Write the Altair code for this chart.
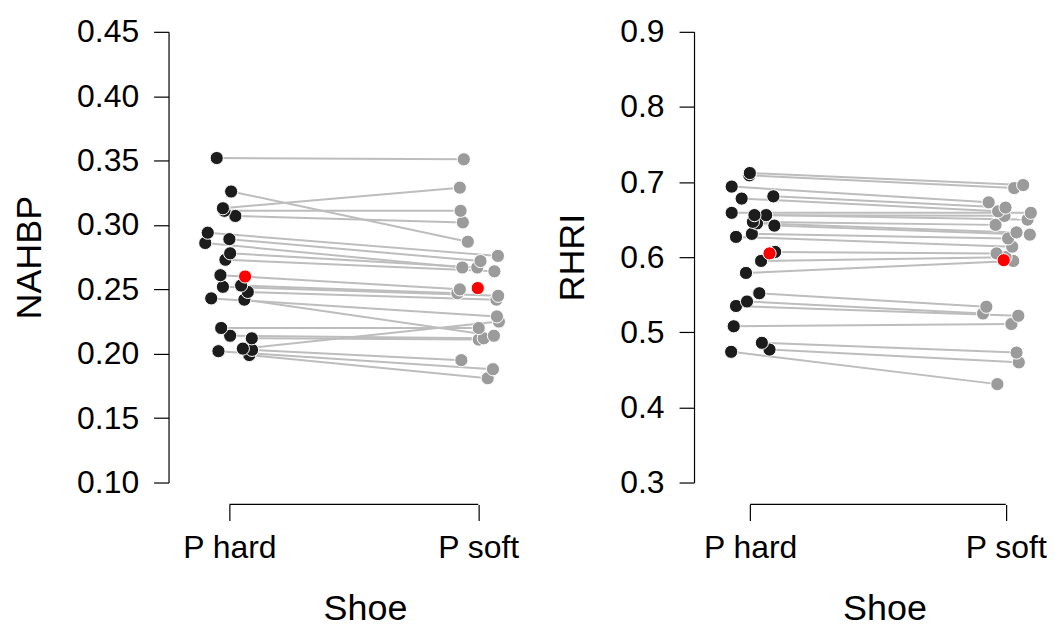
import altair as alt
import pandas as pd

shoes = ["P hard", "P soft"]

# NAHBP panel (paired, same order)
nahbp_hard = [0.352, 0.326, 0.313, 0.311, 0.307, 0.294, 0.289, 0.286, 0.278, 0.273, 0.261, 0.253,
              0.252, 0.248, 0.243, 0.242, 0.220, 0.214, 0.212, 0.204, 0.203, 0.202, 0.199]
nahbp_soft = [0.351, 0.287, 0.329, 0.311, 0.302, 0.276, 0.272, 0.267, 0.267, 0.264, 0.250, 0.247,
              0.245, 0.242, 0.229, 0.214, 0.220, 0.212, 0.211, 0.225, 0.195, 0.188, 0.181]
nahbp_hard_jit = [-0.051, 0.007, -0.026, -0.020, 0.024, -0.087, 0.000, -0.097, 0.003, -0.016, -0.036, 0.047,
                  -0.026, 0.074, -0.073, 0.060, -0.033, 0.003, 0.090, 0.054, 0.091, -0.044, 0.080]
nahbp_soft_jit = [-0.058, -0.042, -0.074, -0.071, -0.062, 0.079, 0.009, -0.064, -0.004, 0.065, -0.074, -0.084,
                  0.080, 0.073, 0.075, 0.063, 0.002, 0.022, 0.002, 0.083, -0.068, 0.059, 0.038]
nahbp_mean = [0.260, 0.251]
nahbp_mean_jit = [0.063, -0.002]
nahbp_ticks = [0.10, 0.15, 0.20, 0.25, 0.30, 0.35, 0.40, 0.45]

# RHRI panel
rhri_hard = [0.712, 0.709, 0.694, 0.681, 0.678, 0.659, 0.656, 0.656, 0.647, 0.645, 0.642, 0.631,
             0.627, 0.607, 0.595, 0.579, 0.552, 0.541, 0.535, 0.508, 0.486, 0.477, 0.474]
rhri_soft = [0.696, 0.692, 0.673, 0.666, 0.661, 0.659, 0.655, 0.650, 0.643, 0.633, 0.630, 0.625,
             0.614, 0.605, 0.600, 0.595, 0.534, 0.525, 0.522, 0.511, 0.473, 0.460, 0.431]
rhri_hard_jit = [-0.001, -0.003, -0.072, 0.091, -0.033, -0.072, 0.017, 0.063, 0.011, 0.027, 0.095, 0.007,
                 -0.055, 0.098, 0.043, -0.016, 0.036, -0.012, -0.055, -0.064, 0.046, 0.076, -0.074]
rhri_soft_jit = [0.068, 0.033, -0.067, -0.001, -0.030, 0.098, -0.005, 0.085, -0.040, 0.042, 0.094, 0.009,
                 0.025, -0.036, -0.001, 0.029, -0.076, -0.089, 0.049, 0.022, 0.042, 0.051, -0.033]
rhri_mean = [0.605, 0.596]
rhri_mean_jit = [0.076, -0.008]
rhri_ticks = [0.3, 0.4, 0.5, 0.6, 0.7, 0.8, 0.9]

FONT = "Liberation Sans"
H = 452
BLACK_PT = "#1c1c1c"
GREY_PT = "#9b9b9b"
LINE_C = "#bdbdbd"


def panel(hard, soft, hj, sj, mean, mj, title, ticks, fmt, xdom, width, title_x):
    rows = []
    for i in range(len(hard)):
        rows.append({"id": i, "shoe": shoes[0], "pos": 0 + hj[i], "value": hard[i]})
        rows.append({"id": i, "shoe": shoes[1], "pos": 1 + sj[i], "value": soft[i]})
    df = pd.DataFrame(rows)
    mdf = pd.DataFrame({"shoe": shoes, "pos": [0 + mj[0], 1 + mj[1]], "value": mean})
    frame = pd.DataFrame({"a": [0], "b": [1]})

    xscale = alt.Scale(domain=xdom, nice=False, zero=False)
    yscale = alt.Scale(domain=[ticks[0], ticks[-1]], nice=False, zero=False)
    label_expr = f"datum.value == 0 ? '{shoes[0]}' : '{shoes[1]}'"
    xaxis = alt.Axis(values=[0, 1], labelExpr=label_expr, domain=False, grid=False,
                     ticks=True, tickSize=16, tickColor="black", tickWidth=1.2,
                     offset=22, labelFontSize=32, labelFont=FONT, labelColor="black",
                     labelPadding=12, labelFlush=False, labelOverlap=False,
                     title="Shoe", titleFontSize=36, titleFont=FONT, titleColor="black",
                     titleFontWeight="normal", titlePadding=28, titleX=title_x)
    yaxis = alt.Axis(values=ticks, format=fmt, domain=True, domainColor="black", domainWidth=1.2,
                     grid=False, tickSize=15, tickColor="black", tickWidth=1.2,
                     labelFontSize=32, labelFont=FONT, labelColor="black", labelPadding=15,
                     labelFlush=False, labelOverlap=False,
                     title=title, titleFontSize=36, titleFont=FONT, titleColor="black",
                     titleFontWeight="normal", titlePadding=28)

    lines = alt.Chart(df).mark_line(color=LINE_C, strokeWidth=2).encode(
        x=alt.X("pos:Q", scale=xscale, axis=xaxis),
        y=alt.Y("value:Q", scale=yscale, axis=yaxis),
        detail="id:N",
    )
    fr = alt.Chart(frame).mark_rule(color="black", strokeWidth=1.2).encode(
        x="a:Q", x2="b:Q", y=alt.value(H + 22)
    )
    pts = alt.Chart(df).mark_circle(size=175, opacity=1, stroke="white", strokeWidth=1).encode(
        x="pos:Q", y="value:Q",
        color=alt.Color("shoe:N", scale=alt.Scale(domain=shoes, range=[BLACK_PT, GREY_PT]), legend=None),
        order=alt.Order("id:Q", sort="descending"),
    )
    mpts = alt.Chart(mdf).mark_circle(size=175, opacity=1, stroke="white", strokeWidth=1, color="#ff0000").encode(
        x="pos:Q", y="value:Q"
    )
    return alt.layer(lines, fr, pts, mpts).properties(width=width, height=H)


left = panel(nahbp_hard, nahbp_soft, nahbp_hard_jit, nahbp_soft_jit, nahbp_mean, nahbp_mean_jit,
             "NAHBP", nahbp_ticks, ".2f", [-0.2446, 1.25], 373, 197)
right = panel(rhri_hard, rhri_soft, rhri_hard_jit, rhri_soft_jit, rhri_mean, rhri_mean_jit,
              "RHRI", rhri_ticks, ".1f", [-0.2193, 1.13], 346, 191)

chart = alt.hconcat(left, right, spacing=14).configure_view(stroke=None).properties(
    padding={"left": 3, "top": 7, "right": 0, "bottom": 0}
)

chart.save("out.html", embed_options={"renderer": "svg", "actions": False})
